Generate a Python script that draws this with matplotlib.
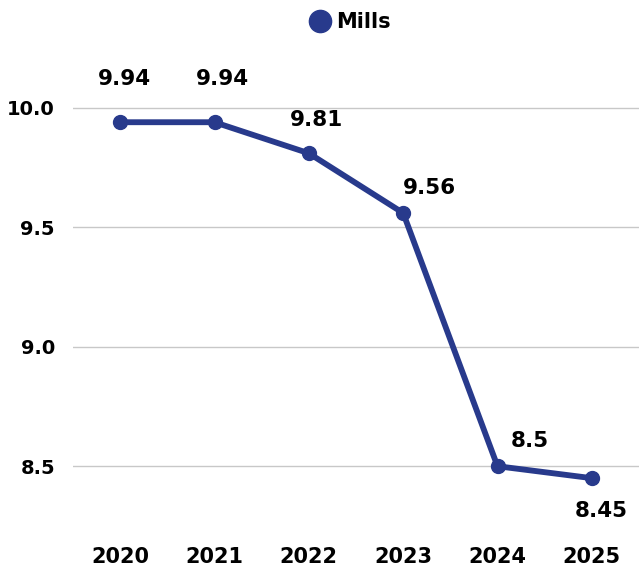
import matplotlib.pyplot as plt
from matplotlib.lines import Line2D

years = ["2020", "2021", "2022", "2023", "2024", "2025"]
mills = [9.94, 9.94, 9.81, 9.56, 8.5, 8.45]
point_labels = ["9.94", "9.94", "9.81", "9.56", "8.5", "8.45"]
yticks = [8.5, 9.0, 9.5, 10.0]

# label offsets from the point, in pixels (dx, dy up)
label_offsets = [(4, 43), (8, 43), (8, 33), (26, 25), (32, 25), (9, -33)]

color = "#283a8c"
plt.rcParams['font.family'] = ['DejaVu Sans']
plt.rcParams['font.weight'] = 'bold'

fig = plt.figure(figsize=(6.39, 5.73), dpi=100)
ax = fig.add_axes([73 / 639, 1 - 514 / 573, 1 - 73 / 639, (514 - 84) / 573])

x = list(range(len(years)))
ax.plot(x, mills, color=color, lw=4.2, marker='o', markersize=10, solid_joinstyle='round')

for i, (v, lab) in enumerate(zip(mills, point_labels)):
    dx, dy = label_offsets[i]
    ax.annotate(lab, (i, v), xytext=(dx * 0.72, dy * 0.72), textcoords='offset points',
                ha='center', va='center', fontsize=15.5, fontweight='bold')

ax.set_xlim(-0.5, len(years) - 0.5)
ax.set_ylim(8.3, 10.1)
ax.set_xticks(x)
ax.set_xticklabels(years)
ax.set_yticks(yticks)
ax.set_yticklabels([f"{t:.1f}" for t in yticks])
ax.tick_params(axis='x', length=0, pad=24, labelsize=15)
ax.tick_params(axis='y', length=0, pad=13, labelsize=14)
ax.grid(axis='y', color='#c8c8c8', lw=1)
ax.set_axisbelow(True)
for s in ax.spines.values():
    s.set_visible(False)

handle = Line2D([], [], color=color, marker='o', linestyle='none', markersize=16)
fig.legend([handle], ["Mills"], loc='center', bbox_to_anchor=(0.548, 1 - 22 / 573),
           frameon=False, fontsize=15, handletextpad=0.3, handlelength=1.0)

fig.savefig("out.png", dpi=100)
